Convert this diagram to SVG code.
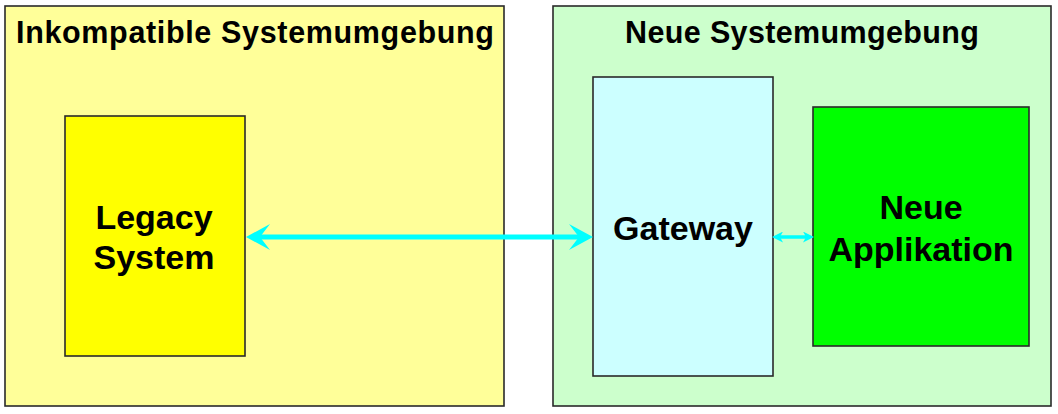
<svg xmlns="http://www.w3.org/2000/svg" width="1058" height="414" viewBox="0 0 1058 414">
<style>
  .box { stroke: #2a2a2a; stroke-width: 1.6; }
  .title { font-family: "Liberation Sans", Arial, sans-serif; font-weight: bold; font-size: 30.5px; fill: #000; }
  .label { font-family: "Liberation Sans", Arial, sans-serif; font-weight: bold; font-size: 34px; fill: #000; text-anchor: middle; }
  .conn { stroke: #00FFFF; fill: none; }
</style>
<defs>
  <marker id="bigHead" viewBox="0 0 24 26" refX="10" refY="13" markerWidth="24" markerHeight="26" markerUnits="userSpaceOnUse" orient="auto-start-reverse">
    <path d="M0,0 L24,13 L0,26 L10,13 Z" fill="#00FFFF"/>
  </marker>
  <marker id="smallHead" viewBox="0 0 11 11" refX="3" refY="5.5" markerWidth="11" markerHeight="11" markerUnits="userSpaceOnUse" orient="auto-start-reverse">
    <path d="M0,0 L11,5.5 L0,11 L3,5.5 Z" fill="#00FFFF"/>
  </marker>
</defs>
<rect width="1058" height="414" fill="#ffffff"/>
<g id="env-legacy">
  <rect class="box" x="5" y="6" width="499" height="400" fill="#FFFF99"/>
  <text class="title" x="16" y="43" textLength="478" lengthAdjust="spacing">Inkompatible Systemumgebung</text>
</g>
<g id="env-new">
  <rect class="box" x="553" y="6" width="498" height="400" fill="#CCFFCC"/>
  <text class="title" x="625" y="43" textLength="354" lengthAdjust="spacing">Neue Systemumgebung</text>
</g>
<g id="legacy-system">
  <rect class="box" x="65" y="116" width="180" height="240" fill="#FFFF00"/>
  <text class="label" x="154" y="229">Legacy</text>
  <text class="label" x="154" y="269">System</text>
</g>
<g id="gateway">
  <rect class="box" x="593" y="77" width="180" height="299" fill="#CCFFFF"/>
  <text class="label" x="683" y="240">Gateway</text>
</g>
<g id="neue-applikation">
  <rect class="box" x="813" y="107" width="216" height="239" fill="#00FF00"/>
  <text class="label" x="921" y="219">Neue</text>
  <text class="label" x="921" y="261">Applikation</text>
</g>
<g id="connectors">
  <line class="conn" x1="260" y1="237" x2="579" y2="237" stroke-width="5" marker-start="url(#bigHead)" marker-end="url(#bigHead)"/>
  <line class="conn" x1="780" y1="237" x2="806" y2="237" stroke-width="3.5" marker-start="url(#smallHead)" marker-end="url(#smallHead)"/>
</g>
</svg>
